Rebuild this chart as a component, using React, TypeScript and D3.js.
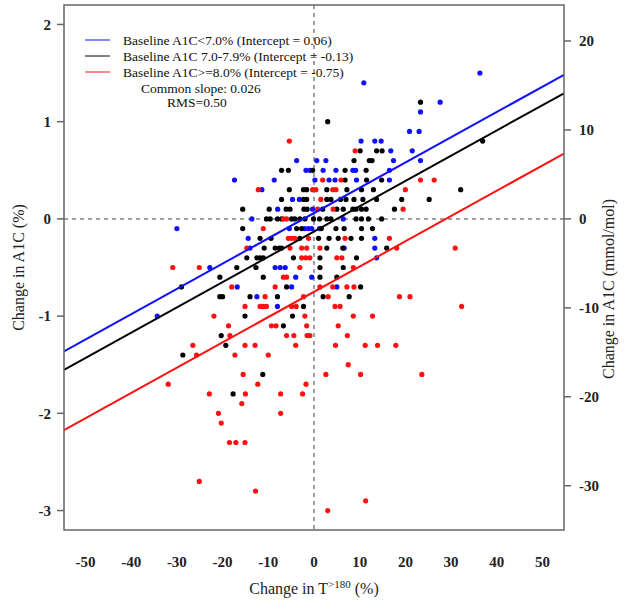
import React from "react";
import * as d3 from "d3";

// ---- data ----
const seriesNames = ["Baseline A1C<7.0%", "Baseline A1C 7.0-7.9%", "Baseline A1C>=8.0%"];
const intercepts = [0.06, -0.13, -0.75];
const commonSlope = 0.026;
const rms = 0.5;

const xTicks = [-50, -40, -30, -20, -10, 0, 10, 20, 30, 40, 50];
const yTicks = [2, 1, 0, -1, -2, -3];
const mmolTicks = [20, 10, 0, -10, -20, -30];
const mmolPerPct = 10.93;

const bluePoints: [number, number][] = [
  [36.3, 1.5], [10.9, 1.4], [23.3, 1.1], [27.6, 1.2], [20.9, 0.9], [23.0, 0.9], [10.3, 0.8], [13.3, 0.8],
  [14.7, 0.8], [16.8, 0.7], [21.5, 0.7], [-3.8, 0.6], [0.6, 0.6], [2.6, 0.6], [17.4, 0.6], [23.3, 0.6],
  [-1.75, 0.5], [-0.9, 0.5], [2.0, 0.5], [4.8, 0.5], [8.5, 0.5], [9.1, 0.5], [16.5, 0.5], [-17.4, 0.4],
  [-8.7, 0.4], [0.2, 0.4], [3.3, 0.4], [4.6, 0.4], [9.3, 0.4], [16.5, 0.4], [-11.4, 0.3], [-4.7, 0.2],
  [-3.2, 0.2], [-7.95, 0.1], [-0.3, 0.1], [-13.6, 0.0], [6.4, 0.0], [-5.4, -0.1], [-2.0, -0.1], [-1.2, -0.1],
  [-0.5, -0.1], [1.2, -0.1], [-30.0, -0.1], [-14.4, -0.2], [13.3, -0.2], [-14.0, -0.3], [6.6, -0.3], [13.3, -0.3],
  [13.7, -0.4], [-22.8, -0.5], [-8.5, -0.5], [-7.4, -0.5], [-6.3, -0.5], [-4.0, -0.6], [-0.5, -0.6],
  [-16.8, -0.7], [-4.9, -0.7], [5.0, -0.7], [-12.5, -0.8], [-8.0, -0.9], [-34.3, -1.0],
];

const blackPoints: [number, number][] = [
  [23.3, 1.2], [3.0, 1.0], [36.9, 0.8], [10.1, 0.7], [13.7, 0.7], [14.9, 0.7], [8.75, 0.6], [12.1, 0.6],
  [12.7, 0.6], [-7.1, 0.5], [-5.6, 0.5], [-0.3, 0.5], [6.8, 0.5], [11.4, 0.5], [6.8, 0.4], [11.5, 0.4],
  [14.8, 0.4], [-5.4, 0.3],
  [-2.3, 0.3], [-1.6, 0.3], [2.8, 0.3], [7.2, 0.3], [10.4, 0.3], [13.0, 0.3], [32.1, 0.3], [-7.1, 0.2],
  [-2.3, 0.2], [-1.6, 0.2], [2.8, 0.2], [3.7, 0.2], [5.8, 0.2], [7.0, 0.2], [8.75, 0.2], [10.7, 0.2],
  [13.7, 0.2], [19.2, 0.2], [25.2, 0.2], [-15.6, 0.1], [-9.8, 0.1], [-6.1, 0.1], [-5.25, 0.1], [-2.2, 0.1],
  [-1.5, 0.1], [1.9, 0.1], [5.0, 0.1], [6.4, 0.1], [8.5, 0.1], [9.2, 0.1], [10.4, 0.1], [11.4, 0.1],
  [17.6, 0.1], [-10.4, 0], [-9.6, 0], [-8.0, 0], [-7.1, 0], [-4.9, 0], [-4.2, 0], [-3.1, 0], [-2.0, 0],
  [-0.1, 0], [1.2, 0], [2.8, 0], [3.7, 0], [9.2, 0], [10.4, 0], [11.9, 0], [14.8, 0], [-15.6, -0.1],
  [-3.8, -0.1], [-2.7, -0.1], [1.6, -0.1], [4.8, -0.1], [6.6, -0.1], [10.4, -0.1], [12.8, -0.1],
  [-11.8, -0.2], [-9.4, -0.2], [-3.1, -0.2], [1.0, -0.2], [3.3, -0.2], [5.3, -0.2], [8.1, -0.2], [10.4, -0.2],
  [-10.9, -0.3], [-8.5, -0.3], [-7.6, -0.3], [-7.1, -0.3], [2.8, -0.3], [6.3, -0.3], [15.9, -0.3],
  [-14.7, -0.4], [-12.5, -0.4], [-11.8, -0.4], [-11.1, -0.4], [-4.5, -0.4], [1.3, -0.4], [9.3, -0.4],
  [-16.9, -0.5], [-12.7, -0.5], [1.3, -0.5], [6.4, -0.5], [-20.6, -0.6], [-11.1, -0.6], [1.3, -0.6],
  [5.0, -0.6], [-29.0, -0.7], [-6.0, -0.7], [10.2, -0.7], [-20.6, -0.8], [-20.0, -0.8], [-14.0, -0.8],
  [-8.0, -0.8], [2.0, -0.8], [7.7, -0.8], [-2.3, -0.9], [-15.1, -1.0], [-4.7, -1.0], [-6.7, -1.1],
  [-20.3, -1.2], [-19.3, -1.3], [-28.7, -1.4], [-11.2, -1.6], [-17.7, -1.8],
];

const redPoints: [number, number][] = [
  [-5.4, 0.8], [9.0, 0.7], [23.3, 0.4], [26.3, 0.4], [1.9, 0.4], [5.9, 0.4], [-12.2, 0.3], [-0.3, 0.3],
  [0.4, 0.3], [4.1, 0.3], [4.8, 0.3], [20.0, 0.3], [1.5, 0.2], [0.8, 0.1], [4.2, 0.1], [19.5, 0.1],
  [-6.7, 0], [-6.0, 0], [-11.1, -0.1], [-5.6, -0.2], [-4.9, -0.2], [-4.2, -0.2], [-1.2, -0.2], [6.8, -0.2],
  [16.5, -0.2], [-2.7, -0.3], [-1.6, -0.3], [1.3, -0.3], [18.1, -0.3], [30.9, -0.3], [-14.7, -0.3],
  [-5.25, -0.3], [-2.7, -0.4], [-1.8, -0.4], [-0.9, -0.4], [5.0, -0.4], [6.1, -0.4], [-30.9, -0.5],
  [-25.1, -0.5], [-3.1, -0.5], [8.6, -0.5], [-6.7, -0.6], [-6.0, -0.6], [-18.0, -0.7], [-8.5, -0.7],
  [1.3, -0.7], [4.1, -0.7], [7.2, -0.7], [8.75, -0.7], [-10.7, -0.8], [-2.3, -0.8], [18.7, -0.8],
  [21.0, -0.8], [3.1, -0.8], [-15.1, -0.9], [-11.8, -0.9], [-11.1, -0.9], [-10.4, -0.9], [-4.9, -0.9],
  [-3.9, -0.9], [4.6, -0.9], [5.7, -0.9], [32.3, -0.9], [-21.9, -1.0], [-2.0, -1.0], [8.6, -1.0],
  [12.8, -1.0], [-18.7, -1.1], [-9.3, -1.1], [-8.3, -1.1], [-1.6, -1.1], [5.3, -1.1], [-18.4, -1.2],
  [-6.0, -1.2], [-4.4, -1.2], [-1.5, -1.2], [-0.9, -1.2], [7.3, -1.2], [-26.5, -1.3], [-15.1, -1.3],
  [-12.9, -1.3], [-4.0, -1.3], [4.7, -1.3], [11.2, -1.3], [13.9, -1.3], [17.9, -1.3], [-25.7, -1.4],
  [-17.3, -1.4], [-10.0, -1.4], [7.5, -1.5], [-15.5, -1.6], [2.6, -1.6], [10.2, -1.6], [23.6, -1.6],
  [-31.9, -1.7], [-12.3, -1.7], [-1.75, -1.7], [-22.9, -1.8], [-15.0, -1.8], [-7.3, -1.8], [-2.5, -1.8],
  [-15.8, -1.9], [-20.9, -2.0], [-7.3, -2.0], [-20.3, -2.1], [-18.5, -2.3], [-17.1, -2.3], [-15.1, -2.3],
  [-25.1, -2.7], [-12.8, -2.8], [11.3, -2.9], [3.0, -3.0],
];

const colors = ["#1010ff", "#000000", "#ff1010"];
const allSeries = [bluePoints, blackPoints, redPoints];

export default function App() {
  const W = 632, H = 605;
  const L = 64, R = 564, T = 5, B = 530;
  const x = d3.scaleLinear().domain([-54.7, 54.7]).range([L, R]);
  const y = d3.scaleLinear().domain([-3.2, 2.2]).range([B, T]);
  const font = "'Liberation Serif', 'Times New Roman', serif";
  const line = d3.line<[number, number]>().x(d => x(d[0])).y(d => y(d[1]));
  const [x0, x1] = x.domain();

  return (
    <svg width={W} height={H} style={{ position: "absolute", left: 0, top: 0, background: "#fff" }}
      fontFamily={font}>
      <defs>
        <clipPath id="plot"><rect x={L} y={T} width={R - L} height={B - T} /></clipPath>
      </defs>
      <rect x={0} y={0} width={W} height={H} fill="#fff" />
      {/* reference dashed lines */}
      <line x1={L} x2={R} y1={y(0)} y2={y(0)} stroke="#808080" strokeWidth={1.5} strokeDasharray="4,4" />
      <line x1={x(0)} x2={x(0)} y1={T} y2={B} stroke="#808080" strokeWidth={1.5} strokeDasharray="4,4" />
      {/* points */}
      <g>
        {allSeries.map((pts, si) =>
          pts.map((p, i) => (
            <circle key={si + "-" + i} cx={x(p[0])} cy={y(p[1])} r={2.6} fill={colors[si]} />
          ))
        )}
      </g>
      {/* regression lines */}
      <g clipPath="url(#plot)">
        {intercepts.map((b, i) => (
          <path key={i} d={line([[x0, b + commonSlope * x0], [x1, b + commonSlope * x1]]) || ""}
            stroke={colors[i]} strokeWidth={2} fill="none" />
        ))}
      </g>
      {/* frame */}
      <rect x={L} y={T} width={R - L} height={B - T} fill="none" stroke="#666" strokeWidth={1.5} />
      {/* left axis */}
      {yTicks.map(t => (
        <g key={"y" + t}>
          <line x1={L - 7} x2={L} y1={y(t)} y2={y(t)} stroke="#666" strokeWidth={1.5} />
          <text x={L - 13} y={y(t)} dy="0.35em" textAnchor="end" fontSize={15} fontWeight="bold" fill="#222">{t}</text>
        </g>
      ))}
      {/* right axis */}
      {mmolTicks.map(t => (
        <g key={"m" + t}>
          <line x1={R} x2={R + 7} y1={y(t / mmolPerPct)} y2={y(t / mmolPerPct)} stroke="#666" strokeWidth={1.5} />
          <text x={R + 15} y={y(t / mmolPerPct)} dy="0.35em" textAnchor="start" fontSize={15} fontWeight="bold" fill="#222">{t}</text>
        </g>
      ))}
      {/* x axis labels */}
      {xTicks.map(t => (
        <text key={"x" + t} x={x(t)} y={562} dy="0.35em" textAnchor="middle" fontSize={15} fontWeight="bold" fill="#222">{t}</text>
      ))}
      {/* axis titles */}
      <text x={314} y={594} textAnchor="middle" fontSize={16} fill="#222">
        Change in T<tspan dy={-6} fontSize={11}>&gt;180</tspan><tspan dy={6}> (%)</tspan>
      </text>
      <text transform={`translate(24, ${(T + B) / 2}) rotate(-90)`} textAnchor="middle" fontSize={16} fill="#222">
        Change in A1C (%)
      </text>
      <text transform={`translate(614, 289) rotate(-90)`} textAnchor="middle" fontSize={16} fill="#222">
        Change in A1C (mmol/mol)
      </text>
      {/* legend */}
      {seriesNames.map((n, i) => (
        <g key={"lg" + i}>
          <line x1={85} x2={110} y1={40 + i * 16} y2={40 + i * 16} stroke={colors[i]} strokeWidth={1} />
          <text x={123} y={40 + i * 16} dy="0.35em" fontSize={13.5} fill="#111">
            {`${n} (Intercept = ${intercepts[i].toFixed(2)})`}
          </text>
        </g>
      ))}
      <text x={141} y={88} dy="0.35em" fontSize={13.5} fill="#111">{`Common slope: ${commonSlope}`}</text>
      <text x={167} y={102} dy="0.35em" fontSize={13.5} fill="#111">{`RMS=${rms.toFixed(2)}`}</text>
    </svg>
  );
}
